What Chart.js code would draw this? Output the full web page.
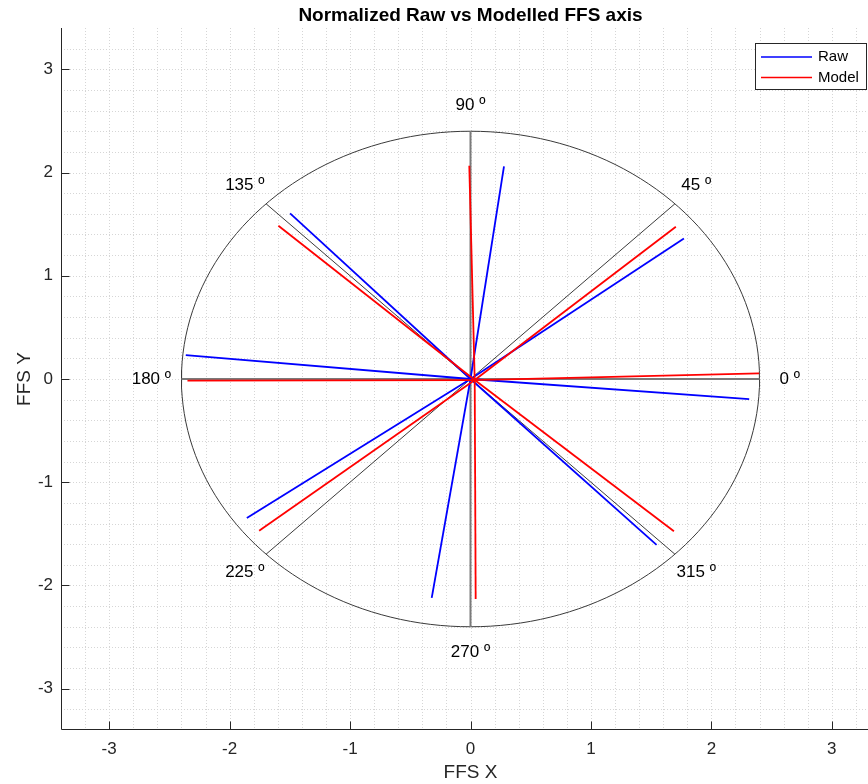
<!DOCTYPE html>
<html><head><meta charset="utf-8">
<script src="https://cdn.jsdelivr.net/npm/chart.js@4.4.0/dist/chart.umd.min.js"></script>
<style>html,body{margin:0;padding:0;background:#fff;overflow:hidden;width:868px;height:784px}canvas{display:block}</style>
</head><body>
<canvas id="c" width="880" height="784"></canvas>
<script>
const chartTitle = 'Normalized Raw vs Modelled FFS axis';
const xAxisTitle = 'FFS X';
const yAxisTitle = 'FFS Y';
const seriesNames = ['Raw', 'Model'];
const seriesColors = ['#0000ff', '#ff0000'];
const tickValues = [-3, -2, -1, 0, 1, 2, 3];
const tickLabels = ['-3', '-2', '-1', '0', '1', '2', '3'];
const axisAnglesDeg = [0, 45, 90, 135, 180, 225, 270, 315];
const angleLabels = ['0 º', '45 º', '90 º', '135 º', '180 º', '225 º', '270 º', '315 º'];
const ringRadius = 2.4;
const labelRadius = 2.65;
const rawOrigin = [0.0, 0.0];
const rawEndX = [2.314, 1.772, 0.278, -1.498, -2.364, -1.857, -0.322, 1.545];
const rawEndY = [-0.194, 1.362, 2.06, 1.604, 0.232, -1.346, -2.12, -1.607];
const modelOrigin = [0.035, -0.01];
const modelEndX = [2.397, 1.705, -0.01, -1.595, -2.35, -1.755, 0.043, 1.689];
const modelEndY = [0.055, 1.474, 2.065, 1.484, -0.016, -1.471, -2.13, -1.475];
const axisMin = -3.4, axisMax = 3.4, minorStep = 0.2;

const FONT = "'Liberation Sans', Arial, Helvetica, sans-serif";
Chart.defaults.font.family = FONT;

const datasets = [];
function seg(x0, y0, x1, y1, color, width) {
  return { data: [{x: x0, y: y0}, {x: x1, y: y1}], borderColor: color, borderWidth: width,
           showLine: true, pointRadius: 0, fill: false, tension: 0 };
}
// Model (on top), then Raw
for (let i = 0; i < modelEndX.length; i++)
  datasets.push(seg(modelOrigin[0], modelOrigin[1], modelEndX[i], modelEndY[i], seriesColors[1], 1.8));
for (let i = 0; i < rawEndX.length; i++)
  datasets.push(seg(rawOrigin[0], rawOrigin[1], rawEndX[i], rawEndY[i], seriesColors[0], 1.8));
// reference spokes
axisAnglesDeg.forEach(a => {
  const r = a * Math.PI / 180;
  const axisAligned = a % 90 === 0;
  datasets.push(seg(0, 0, ringRadius * Math.cos(r), ringRadius * Math.sin(r),
    axisAligned ? '#7a7a7a' : '#3a3a3a', axisAligned ? 2 : 1));
});
// reference ring
const ringPts = [];
for (let k = 0; k <= 180; k++) {
  const t = k * 2 * Math.PI / 180;
  ringPts.push({x: ringRadius * Math.cos(t), y: ringRadius * Math.sin(t)});
}
datasets.push({ data: ringPts, borderColor: '#3a3a3a', borderWidth: 1, showLine: true,
  pointRadius: 0, fill: false, tension: 0 });

const decor = {
  id: 'decor',
  beforeDatasetsDraw(chart) {
    const {ctx, chartArea: ca, scales: {x, y}} = chart;
    ctx.save();
    ctx.strokeStyle = '#d6d6d6';
    ctx.lineWidth = 1;
    ctx.setLineDash([1, 2]);
    const n = Math.round((axisMax - axisMin) / minorStep);
    for (let i = 1; i < n; i++) {
      const v = axisMin + i * minorStep;
      const px = Math.round(x.getPixelForValue(v)) + 0.5;
      ctx.beginPath(); ctx.moveTo(px, ca.top); ctx.lineTo(px, ca.bottom); ctx.stroke();
      const py = Math.round(y.getPixelForValue(v)) + 0.5;
      ctx.beginPath(); ctx.moveTo(ca.left, py); ctx.lineTo(ca.right, py); ctx.stroke();
    }
    ctx.setLineDash([]);
    ctx.strokeStyle = '#262626';
    ctx.lineWidth = 1;
    const L = Math.round(ca.left) + 0.5, B = Math.round(ca.bottom) - 0.5;
    ctx.beginPath(); ctx.moveTo(L, ca.top); ctx.lineTo(L, B); ctx.lineTo(ca.right, B); ctx.stroke();
    tickValues.forEach(v => {
      const px = Math.round(x.getPixelForValue(v)) + 0.5;
      ctx.beginPath(); ctx.moveTo(px, B); ctx.lineTo(px, B - 8); ctx.stroke();
      const py = Math.round(y.getPixelForValue(v)) + 0.5;
      ctx.beginPath(); ctx.moveTo(L, py); ctx.lineTo(L + 8, py); ctx.stroke();
    });
    ctx.restore();
  },
  afterDraw(chart) {
    const {ctx, chartArea: ca, scales: {x, y}} = chart;
    ctx.save();
    // angle labels
    ctx.fillStyle = '#000';
    ctx.font = '17px ' + FONT;
    ctx.textAlign = 'center';
    ctx.textBaseline = 'middle';
    axisAnglesDeg.forEach((a, i) => {
      const r = a * Math.PI / 180;
      ctx.fillText(angleLabels[i], x.getPixelForValue(labelRadius * Math.cos(r)),
                   y.getPixelForValue(labelRadius * Math.sin(r)));
    });
    // title
    const cx = (ca.left + ca.right) / 2;
    ctx.font = 'bold 19px ' + FONT;
    ctx.fillText(chartTitle, cx, 16);
    // axis titles
    ctx.fillStyle = '#262626';
    ctx.font = '19px ' + FONT;
    ctx.fillText(xAxisTitle, cx, 773);
    ctx.save();
    ctx.translate(25, (ca.top + ca.bottom) / 2);
    ctx.rotate(-Math.PI / 2);
    ctx.fillText(yAxisTitle, 0, 0);
    ctx.restore();
    // legend
    const lx = 755.5, ly = 43.5, lw = 111, lh = 46;
    ctx.fillStyle = '#fff';
    ctx.fillRect(lx, ly, lw, lh);
    ctx.strokeStyle = '#262626';
    ctx.lineWidth = 1;
    ctx.strokeRect(lx, ly, lw, lh);
    ctx.font = '15px ' + FONT;
    ctx.textAlign = 'left';
    seriesNames.forEach((name, i) => {
      const yy = 57 + i * 20.5;
      ctx.strokeStyle = seriesColors[i];
      ctx.lineWidth = 1.5;
      ctx.beginPath(); ctx.moveTo(761, yy); ctx.lineTo(812, yy); ctx.stroke();
      ctx.fillStyle = '#000';
      ctx.fillText(name, 818, yy);
    });
    ctx.restore();
  }
};

new Chart(document.getElementById('c'), {
  type: 'scatter',
  data: { datasets },
  options: {
    responsive: false,
    animation: false,
    events: [],
    layout: { padding: { top: 28, left: 0, right: 0, bottom: 0 } },
    plugins: { legend: { display: false }, tooltip: { enabled: false }, title: { display: false } },
    scales: {
      x: {
        type: 'linear', min: axisMin, max: axisMax,
        afterFit: s => { s.height = 54; },
        afterBuildTicks: s => { s.ticks = tickValues.map(v => ({value: v})); },
        grid: { display: false, drawTicks: false }, border: { display: false },
        ticks: { padding: 9, color: '#262626', font: { size: 17 },
          callback: v => { const i = tickValues.indexOf(v); return i >= 0 ? tickLabels[i] : ''; } }
      },
      y: {
        type: 'linear', min: axisMin, max: axisMax,
        afterFit: s => { s.width = 61; },
        afterBuildTicks: s => { s.ticks = tickValues.map(v => ({value: v})); },
        grid: { display: false, drawTicks: false }, border: { display: false },
        ticks: { padding: 8, color: '#262626', font: { size: 17 },
          callback: v => { const i = tickValues.indexOf(v); return i >= 0 ? tickLabels[i] : ''; } }
      }
    }
  },
  plugins: [decor]
});
</script>
</body></html>
